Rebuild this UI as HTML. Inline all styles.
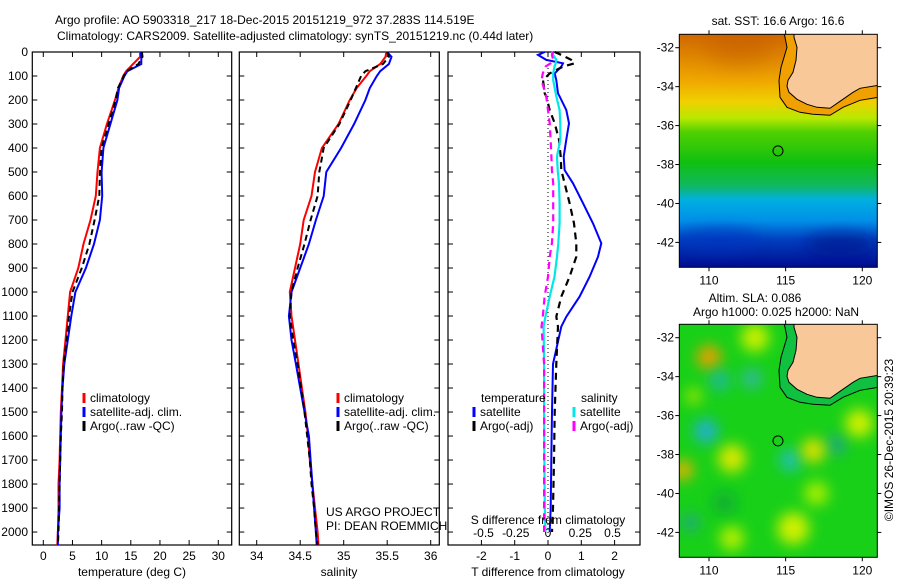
<!DOCTYPE html>
<html><head><meta charset="utf-8">
<style>
html,body{margin:0;padding:0;background:#fff;}
svg{display:block;font-family:"Liberation Sans",sans-serif;}
text{font-size:12px;fill:#000;}
</style></head>
<body>
<svg id="fig" width="900" height="580" viewBox="0 0 900 580" xmlns="http://www.w3.org/2000/svg">
<defs>
<linearGradient id="sstgrad" x1="0" y1="0" x2="0" y2="1">
<stop offset="0" stop-color="#d06800"/>
<stop offset="0.1" stop-color="#e08800"/>
<stop offset="0.2" stop-color="#f0a800"/>
<stop offset="0.29" stop-color="#f0d000"/>
<stop offset="0.36" stop-color="#b8e800"/>
<stop offset="0.42" stop-color="#50d000"/>
<stop offset="0.55" stop-color="#10c010"/>
<stop offset="0.65" stop-color="#10b860"/>
<stop offset="0.71" stop-color="#00b0e0"/>
<stop offset="0.8" stop-color="#0090e8"/>
<stop offset="0.88" stop-color="#0040c0"/>
<stop offset="1" stop-color="#000c90"/>
</linearGradient>
<filter id="blur" x="-100%" y="-100%" width="300%" height="300%"><feGaussianBlur stdDeviation="7"/></filter>
<filter id="blur2" x="-100%" y="-100%" width="300%" height="300%"><feGaussianBlur stdDeviation="12"/></filter>
<clipPath id="clipTop"><rect x="679" y="34" width="198" height="233"/></clipPath>
<clipPath id="clipBot"><rect x="679" y="324" width="198" height="233"/></clipPath>
</defs>
<g id="root"></g>
</svg>
<script>
// ---- data arrays ----
const depthsT = [0,20,50,80,100,150,200,300,400,500,600,700,800,900,1000,1100,1200,1300,1400,1500,1600,1700,1800,1900,2000,2054];
const tempClim = [16.6,16.6,15.4,14.2,13.7,12.9,12.3,10.9,9.7,9.3,9.0,8.1,6.9,6.0,4.6,4.2,3.8,3.4,3.2,3.0,2.9,2.8,2.6,2.6,2.5,2.4];
const tempSat  = [16.7,16.8,16.8,14.4,13.9,13.0,12.7,11.5,10.3,10.0,10.1,9.7,8.7,7.3,5.5,4.8,4.2,3.6,3.3,3.1,3.0,2.9,2.8,2.8,2.5,2.5];
const tempArgo = [16.9,17.0,16.3,14.3,13.8,12.8,12.4,11.2,10.0,9.7,9.6,8.8,7.9,6.6,5.0,4.4,4.0,3.5,3.3,3.2,3.0,2.9,2.8,2.7,2.6,2.5];
const salClim = [35.49,35.48,35.42,35.3,35.26,35.15,35.07,34.94,34.75,34.67,34.63,34.54,34.5,34.44,34.38,34.40,34.44,34.48,34.52,34.56,34.59,34.61,34.64,34.67,34.70,34.71];
const salSat  = [35.5,35.55,35.52,35.42,35.38,35.3,35.25,35.12,34.97,34.8,34.77,34.68,34.6,34.5,34.4,34.37,34.4,34.45,34.5,34.55,34.6,34.62,34.64,34.66,34.68,34.69];
const salArgo = [35.5,35.52,35.45,35.25,35.2,35.14,35.08,34.95,34.77,34.72,34.7,34.62,34.55,34.47,34.4,34.38,34.42,34.47,34.51,34.55,34.58,34.61,34.63,34.66,34.68,34.70];
const depthsD = [0,12,33,47,61,89,117,172,186,242,297,365,436,492,547,630,714,797,853,936,1019,1103,1144,1300,1500,1700,1900,2000];
const dTsat  = [-0.1,-0.3,-0.05,0.45,0.4,0.2,0.25,0.3,0.35,0.55,0.63,0.55,0.47,0.5,0.75,1.05,1.35,1.6,1.5,1.25,0.95,0.55,0.4,0.15,0.12,0.1,0.08,0.05];
const dTargo = [0.2,0.4,0.7,0.8,0.45,0.05,-0.15,-0.1,-0.05,0.05,0.2,0.33,0.38,0.4,0.5,0.65,0.78,0.85,0.85,0.65,0.4,0.25,0.3,0.25,0.2,0.18,0.15,0.12];
const dSsat  = [0.026,0.04,0.065,0.06,0.05,0.04,0.04,0.06,0.065,0.09,0.095,0.095,0.07,0.075,0.085,0.09,0.09,0.08,0.07,0.05,0.013,-0.02,-0.034,-0.03,-0.03,-0.028,-0.025,-0.02];
const dSargo = [0.04,0.03,0.04,0.02,-0.02,-0.04,-0.05,-0.02,-0.013,0.0,0.013,0.02,0.026,0.03,0.04,0.04,0.04,0.03,0.013,0.0,-0.026,-0.04,-0.05,-0.03,-0.03,-0.03,-0.03,-0.03];
const depthTicks = [0,100,200,300,400,500,600,700,800,900,1000,1100,1200,1300,1400,1500,1600,1700,1800,1900,2000];
const tempTicks = [0,5,10,15,20,25,30];
const salTicks = [34,34.5,35,35.5,36];
const dTTicks = [-2,-1,0,1,2];
const dSTicks = [-0.5,-0.25,0,0.25,0.5];
const lonTicks = [110,115,120];
const latTicks = [-32,-34,-36,-38,-40,-42];
const argoLon = [114.5];
const argoLat = [-37.3];

const NS = "http://www.w3.org/2000/svg";
const root = document.getElementById('root');
function el(tag, attrs, parent, txt){
  const e = document.createElementNS(NS, tag);
  for (const k in attrs) e.setAttribute(k, attrs[k]);
  if (txt !== undefined) e.textContent = txt;
  (parent||root).appendChild(e);
  return e;
}
const yTop = 52, yBot = 545, dMax = 2054;
const yD = d => yTop + d*(yBot-yTop)/dMax;
const xT = t => 43.3 + t*5.833;
const xS = s => 256.7 + (s-34)*87;
const xdT = t => 548 + t*33.3;
const xdS = s => 548 + s*129;

const t1 = el('text',{x:55,y:24,'font-size':'13'},root,'Argo profile: AO 5903318_217 18-Dec-2015 20151219_972 37.283S 114.519E');


const t2 = el('text',{x:57,y:40,'font-size':'13'},root,'Climatology: CARS2009. Satellite-adjusted climatology: synTS_20151219.nc (0.44d later)');



function frame(x0,x1,name){
  const r = el('rect',{x:x0,y:yTop,width:x1-x0,height:yBot-yTop,fill:'none',stroke:'#000','stroke-width':1.2});
  
  
}
function line(xs,ds,fx,color,dash,w,name){
  let p = '';
  for (let i=0;i<xs.length;i++) p += (i?'L':'M') + fx(xs[i]).toFixed(1) + ',' + yD(ds[i]).toFixed(1);
  const e = el('path',{d:p,fill:'none',stroke:color,'stroke-width':w||2,'stroke-dasharray':dash||'none'});
  
  
}
function xticks(ticks,fx,labels,ly,name){
  ticks.forEach((t,i)=>{
    const x = fx(t);
    el('line',{x1:x,x2:x,y1:yTop,y2:yTop+5,stroke:'#000'});
    el('line',{x1:x,x2:x,y1:yBot,y2:yBot-5,stroke:'#000'});
    if (labels){
      const tx = el('text',{x:x,y:ly,'text-anchor':'middle'},root,labels[i]);
      
      
    }
  });
}
function yticks(x0,x1,labels){
  depthTicks.forEach(d=>{
    const y = yD(d);
    el('line',{x1:x0,x2:x0+5,y1:y,y2:y,stroke:'#000'});
    el('line',{x1:x1,x2:x1-5,y1:y,y2:y,stroke:'#000'});
    if (labels){
      const tx = el('text',{x:28,y:y+4,'text-anchor':'end'},root,String(d));
      
      
    }
  });
}
function legend(x,y,entries,name){
  entries.forEach((e,i)=>{
    const yy = y + i*14;
    el('line',{x1:x,x2:x,y1:yy-9,y2:yy+1,stroke:e[0],'stroke-width':3});
    const tx = el('text',{x:x+6,y:yy},root,e[1]);
    
    
  });
}

frame(32.3,231.7,'temperature-panel');
yticks(32.3,231.7,true);
xticks(tempTicks,xT,tempTicks.map(String),560,'temperature-tick-label');
line(tempClim,depthsT,xT,'#f00',null,2,'temp-climatology-line');
line(tempSat,depthsT,xT,'#00f',null,2,'temp-satellite-line');
line(tempArgo,depthsT,xT,'#000','6,4',2,'temp-argo-line');
let lab = el('text',{x:132,y:576,'text-anchor':'middle'},root,'temperature (deg C)');
 
legend(84,402,[['#f00','climatology'],['#00f','satellite-adj. clim.'],['#000','Argo(..raw -QC)']],'temperature-legend-entry');

frame(239.3,439.3,'salinity-panel');
yticks(239.3,439.3,false);
xticks(salTicks,xS,salTicks.map(String),560,'salinity-tick-label');
line(salClim,depthsT,xS,'#f00',null,2,'sal-climatology-line');
line(salSat,depthsT,xS,'#00f',null,2,'sal-satellite-line');
line(salArgo,depthsT,xS,'#000','6,4',2,'sal-argo-line');
lab = el('text',{x:339,y:576,'text-anchor':'middle'},root,'salinity');
 
legend(338,402,[['#f00','climatology'],['#00f','satellite-adj. clim.'],['#000','Argo(..raw -QC)']],'salinity-legend-entry');
lab = el('text',{x:326,y:516},root,'US ARGO PROJECT');
 
lab = el('text',{x:326,y:530},root,'PI: DEAN ROEMMICH');
 

frame(448,640,'difference-panel');
yticks(448,640,false);
xticks(dTTicks,xdT,dTTicks.map(String),560,'t-diff-tick-label');
dSTicks.forEach(s=>{
  const tx = el('text',{x:xdS(s),y:537,'text-anchor':'middle'},root,String(s));
  
  
});
el('line',{x1:548,x2:548,y1:yTop,y2:yBot,stroke:'#000','stroke-dasharray':'1,3'});
line(dTsat,depthsD,xdT,'#00f',null,2,'tdiff-satellite-line');
line(dTargo,depthsD,xdT,'#000','7,5',2.2,'tdiff-argo-line');
line(dSsat,depthsD,xdS,'#00e8e8',null,2.2,'sdiff-satellite-line');
line(dSargo,depthsD,xdS,'#f0f','7,5',2.2,'sdiff-argo-line');
lab = el('text',{x:481,y:402},root,'temperature');
 
lab = el('text',{x:581,y:402},root,'salinity');
 
legend(474,416,[['#00f','satellite'],['#000','Argo(-adj)']],'tdiff-legend-entry');
legend(574,416,[['#00e8e8','satellite'],['#f0f','Argo(-adj)']],'sdiff-legend-entry');
lab = el('text',{x:548,y:524,'text-anchor':'middle'},root,'S difference from climatology');
 
lab = el('text',{x:548,y:576,'text-anchor':'middle'},root,'T difference from climatology');
 

const mx0 = 679.3, mx1 = 877.3;
const xLon = l => 709 + (l-110)*15.33;
function map(y0,kind){
  const y1 = y0+233;
  const yLat = la => y0 + 13.4 + (-32-la)*19.47;
  const g = el('g',{'clip-path': kind==='sst'?'url(#clipTop)':'url(#clipBot)'});
  
  
  if (kind==='sst'){
    el('rect',{x:mx0,y:y0,width:198,height:233,fill:'url(#sstgrad)'},g);
    el('ellipse',{cx:740,cy:y0+12,rx:35,ry:18,fill:'#c05800',opacity:0.5,filter:'url(#blur2)'},g);
    el('ellipse',{cx:720,cy:y0+205,rx:40,ry:12,fill:'#0030c0',opacity:0.5,filter:'url(#blur)'},g);
    el('ellipse',{cx:840,cy:y0+210,rx:35,ry:12,fill:'#001080',opacity:0.5,filter:'url(#blur)'},g);
  } else {
    el('rect',{x:mx0,y:y0,width:198,height:233,fill:'#18d018'},g);
    const blobs = [[110,-33,12,'#e8a000'],[109.8,-36.8,12,'#20b0d0'],[110.7,-34.2,10,'#20b8a0'],[112.8,-34.1,10,'#30b8a0'],[115.3,-38.3,11,'#20c0b0'],[118.3,-37.5,10,'#20a880'],[108.3,-38.8,10,'#f0b000'],[111.5,-38.2,14,'#d8e800'],[116.8,-37.8,12,'#e0e000'],[119.8,-36.4,14,'#d0f000'],[115.5,-41.8,16,'#d0f000'],[108.8,-41.5,9,'#20a880'],[113,-32,14,'#c8f000'],[111,-40.5,12,'#10b030'],[117,-40,12,'#a8f000'],[111.5,-42.3,12,'#b8f000'],[109,-35,8,'#a0e800']];
    blobs.forEach(b=>el('circle',{cx:xLon(b[0]),cy:yLat(b[1]),r:b[2],fill:b[3],filter:'url(#blur)'},g));
  }
  const landPts = [[794,y0-2],[794,y0+3],[797,y0+13],[796,y0+26],[793,y0+38],[788,y0+46],[787,y0+52],[789,y0+58],[797,y0+65],[807,y0+70],[817,y0+73],[830,y0+74],[840,y0+67],[853,y0+58],[860,y0+54],[878,y0+51],[878,y0-2]];
  const shelf = kind==='sst'?'#f0a000':'#10c040';
  el('path',{d:'M784,'+(y0-2)+' L787,'+(y0+13)+' L781,'+(y0+33)+' L779,'+(y0+46)+' L780,'+(y0+63)+' L787,'+(y0+73)+' L800,'+(y0+78)+' L813,'+(y0+80)+' L830,'+(y0+81)+' L843,'+(y0+73)+' L860,'+(y0+66)+' L878,'+(y0+63)+' L878,'+(y0-2)+' Z',fill:shelf,stroke:'#000','stroke-width':1},g);
  el('path',{d:'M'+landPts.map(p=>p.join(',')).join(' L')+' Z',fill:'#f8c898',stroke:'#000','stroke-width':1},g);
  argoLon.forEach((lo,i)=>{
    const c = el('circle',{cx:xLon(lo),cy:yLat(argoLat[i]),r:5,fill:'none',stroke:'#000','stroke-width':1});
    
    
  });
  const fr = el('rect',{x:mx0,y:y0,width:198,height:233,fill:'none',stroke:'#000','stroke-width':1});
  
  
  lonTicks.forEach(l=>{
    const x = xLon(l);
    el('line',{x1:x,x2:x,y1:y0,y2:y0-4,stroke:'#000'});
    el('line',{x1:x,x2:x,y1:y1,y2:y1+4,stroke:'#000'});
    const tx = el('text',{x:x,y:y1+17,'text-anchor':'middle'},root,String(l));
    
    
  });
  latTicks.forEach(la=>{
    const y = yLat(la);
    el('line',{x1:mx0,x2:mx0-4,y1:y,y2:y,stroke:'#000'});
    el('line',{x1:mx1,x2:mx1+4,y1:y,y2:y,stroke:'#000'});
    const tx = el('text',{x:674,y:y+4,'text-anchor':'end'},root,String(la));
    
    
  });
}
map(34.3,'sst');
map(324.3,'sla');
lab = el('text',{x:778,y:25,'text-anchor':'middle'},root,'sat. SST: 16.6 Argo: 16.6');
 
lab = el('text',{x:755,y:302,'text-anchor':'middle'},root,'Altim. SLA: 0.086');
 
lab = el('text',{x:776,y:316,'text-anchor':'middle'},root,'Argo h1000: 0.025 h2000: NaN');
 
lab = el('text',{x:0,y:0,'text-anchor':'middle',transform:'translate(893,440) rotate(-90)'},root,'©IMOS 26-Dec-2015 20:39:23');
 
</script>
</body></html>
